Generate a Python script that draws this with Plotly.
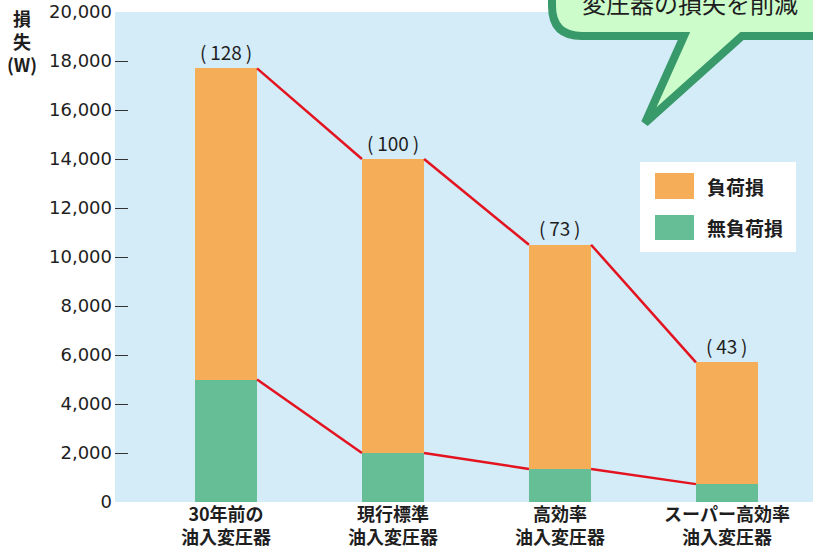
import plotly.graph_objects as go

categories = ["30年前の<br>油入変圧器", "現行標準<br>油入変圧器", "高効率<br>油入変圧器", "スーパー高効率<br>油入変圧器"]
no_load_loss = [5000, 2000, 1350, 730]          # 無負荷損 (W)
load_loss = [12700, 12000, 9150, 4970]          # 負荷損 (W)
ratio_labels = ["(\u2009128\u2009)", "(\u2009100\u2009)", "(\u200973\u2009)", "(\u200943\u2009)"]
y_tickvals = [0, 2000, 4000, 6000, 8000, 10000, 12000, 14000, 16000, 18000, 20000]
y_ticktext = [f"{v:,}" for v in y_tickvals]

W, H = 813, 556
ML, MR, MT, MB = 115, 0, 12, 54
PW, PH = W - ML - MR, H - MT - MB

def px(x):
    return (x - ML) / PW

def py(y):
    return (H - MB - y) / PH

ORANGE = "#f5ae57"
GREEN = "#66be96"
RED = "#e3131f"
BG = "#d4ebf8"
JP = "Noto Sans CJK JP"
TXT = "#1e1e1e"

bar_w = 0.372
xs = list(range(len(categories)))
totals = [a + b for a, b in zip(no_load_loss, load_loss)]

fig = go.Figure()
fig.add_trace(go.Bar(x=xs, y=no_load_loss, width=bar_w, marker=dict(color=GREEN, line=dict(width=0)),
                     name="無負荷損", showlegend=False))
fig.add_trace(go.Bar(x=xs, y=load_loss, width=bar_w, marker=dict(color=ORANGE, line=dict(width=0)),
                     name="負荷損", showlegend=False))

def connector(vals):
    lx, ly = [], []
    for i in range(len(vals) - 1):
        lx += [xs[i] + bar_w / 2, xs[i + 1] - bar_w / 2, None]
        ly += [vals[i], vals[i + 1], None]
    return lx, ly

for vals in (totals, no_load_loss):
    lx, ly = connector(vals)
    fig.add_trace(go.Scatter(x=lx, y=ly, mode="lines", line=dict(color=RED, width=2.5),
                             showlegend=False, hoverinfo="skip"))

for i, (t, lab) in enumerate(zip(totals, ratio_labels)):
    fig.add_annotation(x=xs[i], y=t, text=lab, showarrow=False, yanchor="middle", yshift=17,
                       font=dict(family=JP, size=19, color=TXT))

x0 = -(226 - ML) / 167
fig.update_layout(
    width=W, height=H,
    margin=dict(l=ML, r=MR, t=MT, b=MB),
    paper_bgcolor="white", plot_bgcolor=BG,
    barmode="stack", bargap=0,
    showlegend=False,
    xaxis=dict(range=[x0, x0 + PW / 167], tickvals=xs, ticktext=categories, showgrid=False,
               zeroline=False, showline=False, ticks="",
               tickfont=dict(family=JP, size=18, color=TXT, weight="bold")),
    yaxis=dict(range=[0, 20000], tickvals=y_tickvals, ticktext=y_ticktext, showgrid=False,
               zeroline=False, showline=False, ticks="inside", ticklen=13, tickwidth=1.2,
               tickcolor="#333333", ticklabelstandoff=2,
               tickfont=dict(family="DejaVu Sans", size=18, color=TXT)),
)

# y-axis title (stacked vertically)
fig.add_shape(type="rect", xref="paper", yref="paper", x0=px(2), x1=px(42), y0=py(14), y1=py(74),
              fillcolor="rgba(0,0,0,0)", line=dict(width=0), layer="above",
              label=dict(text="<b>損<br>失<br>(W)</b>", textposition="middle center",
                         font=dict(family=JP, size=18, color=TXT)))

# legend box
fig.add_shape(type="rect", xref="paper", yref="paper", x0=px(640), x1=px(796), y0=py(162), y1=py(252),
              fillcolor="white", line=dict(width=0), layer="above")
fig.add_shape(type="rect", xref="paper", yref="paper", x0=px(655), x1=px(694), y0=py(173), y1=py(199),
              fillcolor=ORANGE, line=dict(width=0), layer="above")
fig.add_shape(type="rect", xref="paper", yref="paper", x0=px(655), x1=px(694), y0=py(215), y1=py(240),
              fillcolor=GREEN, line=dict(width=0), layer="above")
fig.add_annotation(xref="paper", yref="paper", x=px(705), y=py(187), xanchor="left", text="負荷損",
                   showarrow=False, font=dict(family=JP, size=19, color=TXT, weight="bold"))
fig.add_annotation(xref="paper", yref="paper", x=px(705), y=py(228), xanchor="left", text="無負荷損",
                   showarrow=False, font=dict(family=JP, size=19, color=TXT, weight="bold"))

# speech bubble
path = f"M {px(552)},{py(-40)} L {px(552)},{py(6)} Q {px(552)},{py(36)} {px(582)},{py(36)} " \
       f"L {px(684)},{py(36)} L {px(645)},{py(123)} L {px(742)},{py(36)} L {px(840)},{py(36)} " \
       f"L {px(840)},{py(-40)} Z"
fig.add_shape(type="path", xref="paper", yref="paper", path=path, fillcolor="#cdfccb",
              line=dict(color="#38996a", width=8), layer="above")
fig.add_shape(type="rect", xref="paper", yref="paper", x0=px(580), x1=px(800), y0=py(-7), y1=py(19),
              fillcolor="rgba(0,0,0,0)", line=dict(width=0), layer="above",
              label=dict(text="変圧器の損失を削減", textposition="middle center",
                         font=dict(family=JP, size=24, color=TXT)))

fig.write_html("out.html", config={"displayModeBar": False},
               post_script="document.body.style.margin='0';document.body.style.overflow='hidden';")
